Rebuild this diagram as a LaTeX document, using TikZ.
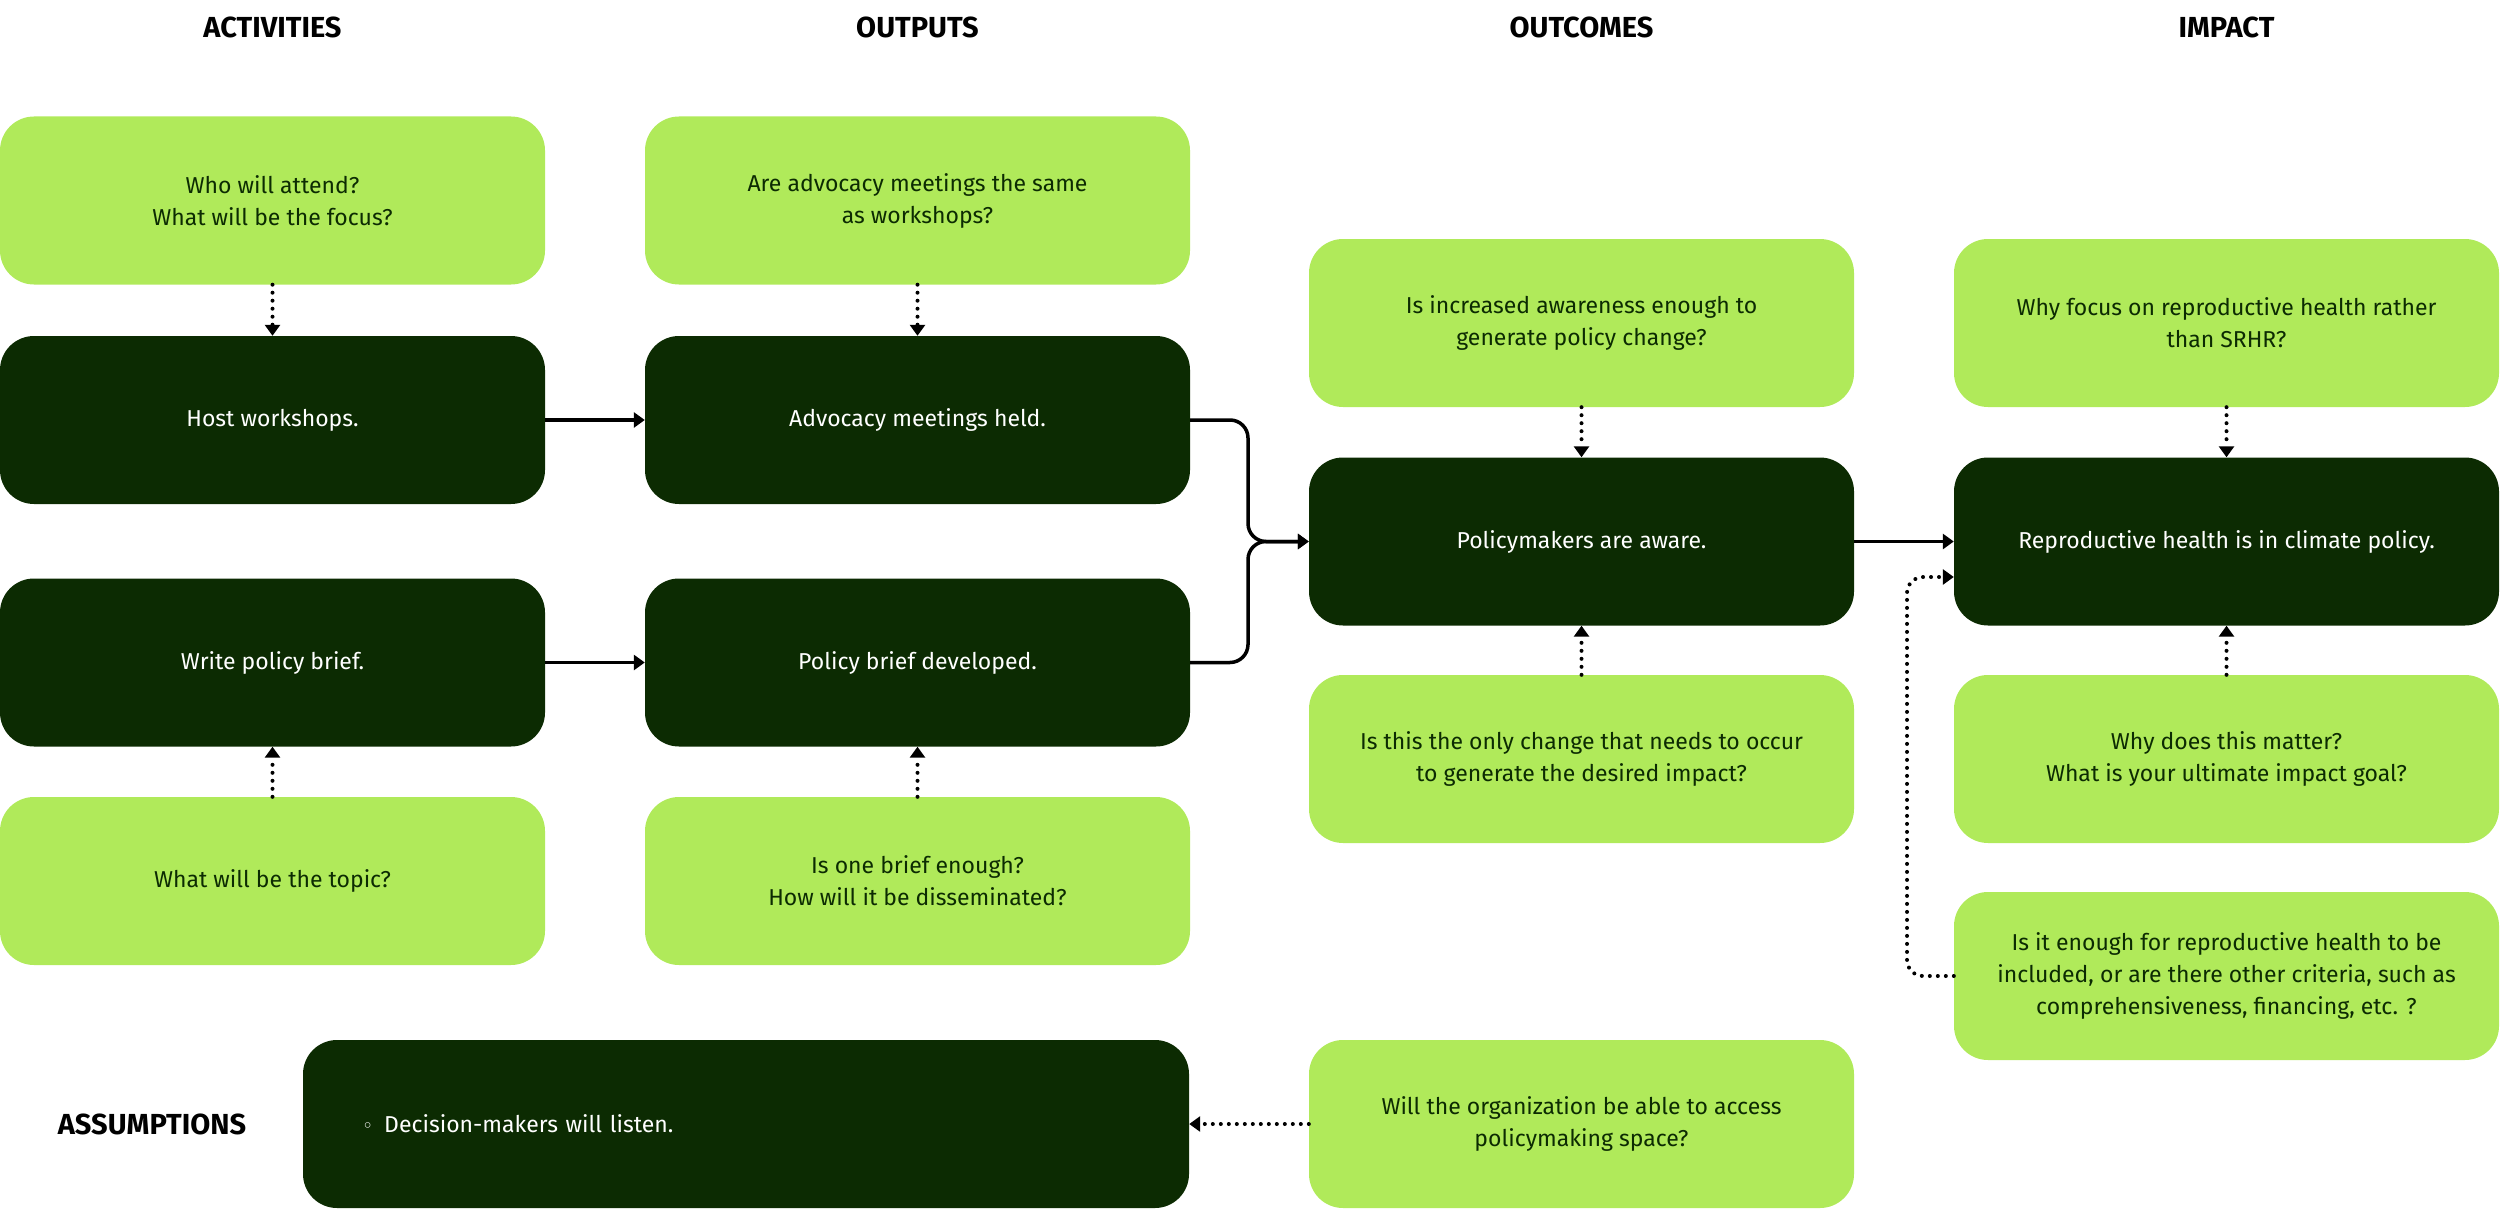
\documentclass[tikz,border=0pt]{standalone}
\usepackage{fontspec}
\setmainfont{Fira Sans}
\newfontfamily\symfont{DejaVu Sans}
\usetikzlibrary{arrows.meta}
\definecolor{darkg}{HTML}{0C2B02}
\definecolor{lightg}{HTML}{B0EA5A}
\begin{document}
\begin{tikzpicture}[x=1pt,y=-1pt,
 box/.style={rounded corners=34pt, minimum width=545pt, minimum height=168pt, align=center, inner sep=0pt, font=\fontsize{23}{32}\selectfont},
 qbox/.style={box, fill=lightg, text=darkg},
 sbox/.style={box, fill=darkg, text=white},
 hdr/.style={font=\fontsize{29}{32}\selectfont\bfseries, text=black},
 solidarrow/.style={line width=3.5pt, -{Triangle[length=11pt,width=15pt]}},
 dotarrow/.style={line width=4pt, dash pattern=on 0pt off 8pt, line cap=round, -{Triangle[length=11pt,width=15pt]}},
]
\useasboundingbox (0,0) rectangle (2500,1209);
% headers
\node[hdr] (h1) at (272.5,27) {ACTIVITIES};
\node[hdr] (h2) at (917.5,27) {OUTPUTS};
\node[hdr] (h3) at (1581.5,27) {OUTCOMES};
\node[hdr] (h4) at (2226.5,27) {IMPACT};
\node[hdr] (h5) at (152,1124) {ASSUMPTIONS};
% column 1
\node[qbox] (q1) at (272.5,200.5) {Who will attend?\\What will be the focus?};
\node[sbox] (a1) at (272.5,420) {Host workshops.};
\node[sbox] (a2) at (272.5,662.5) {Write policy brief.};
\node[qbox] (q2) at (272.5,881) {What will be the topic?};
% column 2
\node[qbox] (q3) at (917.5,200.5) {Are advocacy meetings the same\\as workshops?};
\node[sbox] (o1) at (917.5,420) {Advocacy meetings held.};
\node[sbox] (o2) at (917.5,662.5) {Policy brief developed.};
\node[qbox] (q4) at (917.5,881) {Is one brief enough?\\How will it be disseminated?};
% column 3
\node[qbox] (q5) at (1581.5,323) {Is increased awareness enough to\\generate policy change?};
\node[sbox] (pm) at (1581.5,541.5) {Policymakers are aware.};
\node[qbox] (q6) at (1581.5,759) {Is this the only change that needs to occur\\to generate the desired impact?};
\node[qbox] (q7) at (1581.5,1124) {Will the organization be able to access\\policymaking space?};
% column 4
\node[qbox] (q8) at (2226.5,323) {Why focus on reproductive health rather\\than SRHR?};
\node[sbox] (rh) at (2226.5,541.5) {Reproductive health is in climate policy.};
\node[qbox] (q9) at (2226.5,759) {Why does this matter?\\What is your ultimate impact goal?};
\node[qbox] (q10) at (2226.5,976) {Is it enough for reproductive health to be\\included, or are there other criteria, such as\\comprehensiveness, financing, etc. ?};
% assumptions
\node[sbox, minimum width=886pt, text width=768pt, inner xsep=59pt, align=left] (as) at (746,1124) {{\symfont\fontsize{19}{32}\selectfont ◦}\hspace{11pt}Decision-makers will listen.};
% dotted arrows
\draw[dotarrow] (q1.south) -- (a1.north);
\draw[dotarrow] (q2.north) -- (a2.south);
\draw[dotarrow] (q3.south) -- (o1.north);
\draw[dotarrow] (q4.north) -- (o2.south);
\draw[dotarrow] (q5.south) -- (pm.north);
\draw[dotarrow] (q6.north) -- (pm.south);
\draw[dotarrow] (q8.south) -- (rh.north);
\draw[dotarrow] (q9.north) -- (rh.south);
\draw[dotarrow] (q7.west) -- (as.east);
\draw[dotarrow, rounded corners=16pt] (q10.west) -- (1907,976) -- (1907,577) -- ([yshift=-35.5pt]rh.west);
% solid arrows
\draw[solidarrow] (a1.east) -- (o1.west);
\draw[solidarrow] (a2.east) -- (o2.west);
\draw[solidarrow, rounded corners=18pt] (o1.east) -- (1248,420) -- (1248,541.5) -- (pm.west);
\draw[solidarrow, rounded corners=18pt] (o2.east) -- (1248,662.5) -- (1248,541.5) -- (pm.west);
\draw[solidarrow] (pm.east) -- (rh.west);
\end{tikzpicture}
\end{document}
